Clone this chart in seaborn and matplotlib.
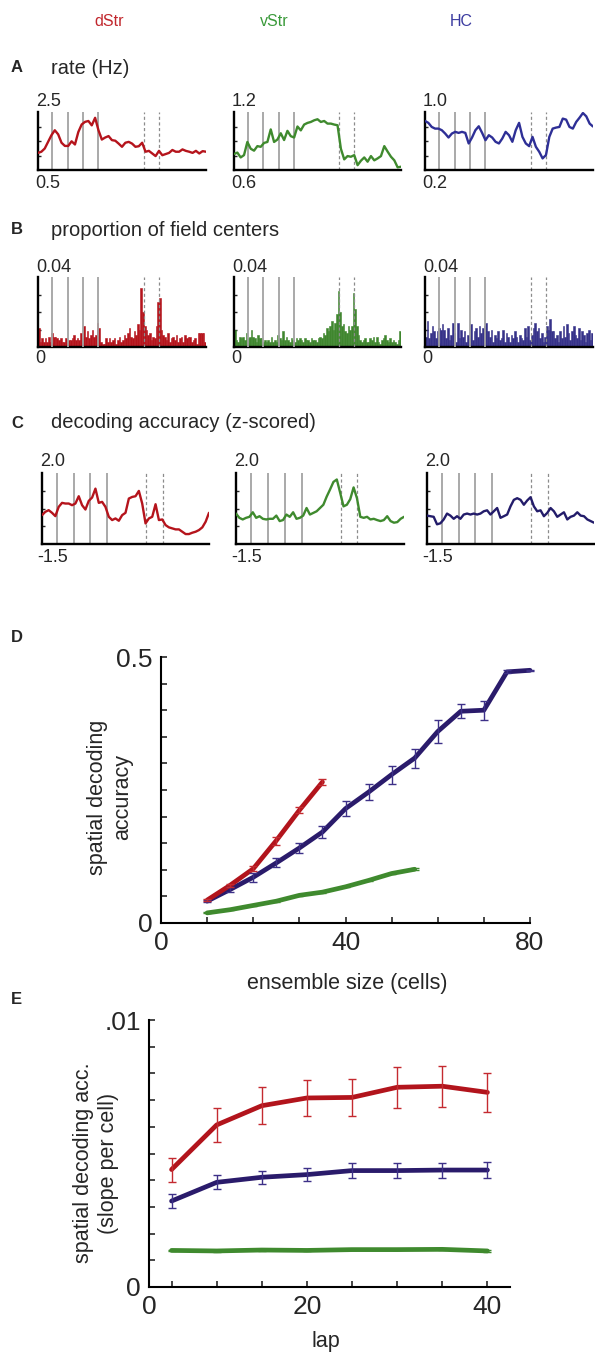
import numpy as np
import matplotlib
matplotlib.use('Agg')
import matplotlib.pyplot as plt
import seaborn as sns

sns.set_style('white')
plt.rcParams['font.family'] = ['Liberation Sans', 'DejaVu Sans']

W, H = 595, 1354

# ---------------- data ----------------
regions = ['dStr', 'vStr', 'HC']
pos = np.arange(0, 101, 2)          # track position (% of track), sampled every 2 %
bin_centers = np.arange(100) + 0.5  # 100 spatial bins

# A: firing rate (Hz)
rate_dStr = [1.09, 1.13, 1.24, 1.47, 1.70, 1.87, 1.73, 1.44, 1.33, 1.33, 1.49, 1.38, 1.81, 2.07,
             2.16, 2.19, 2.04, 2.30, 1.87, 1.55, 1.62, 1.67, 1.53, 1.51, 1.41, 1.30, 1.44, 1.47,
             1.41, 1.30, 1.32, 1.44, 1.13, 1.16, 1.07, 0.98, 1.16, 1.01, 1.05, 1.09, 1.19, 1.13,
             1.13, 1.21, 1.16, 1.13, 1.09, 1.16, 1.07, 1.15, 1.13]
rate_vStr = [0.765, 0.78, 0.73, 0.754, 0.89, 0.82, 0.80, 0.847, 0.84, 0.88, 0.89, 1.02, 0.89,
             0.915, 0.98, 0.91, 1.005, 0.95, 0.936, 1.05, 1.01, 1.07, 1.087, 1.097, 1.114, 1.125,
             1.097, 1.107, 1.08, 1.08, 1.07, 1.063, 0.82, 0.71, 0.744, 0.737, 0.754, 0.65, 0.696,
             0.73, 0.686, 0.744, 0.70, 0.72, 0.744, 0.847, 0.79, 0.737, 0.70, 0.627, 0.634]
rate_HC = [0.877, 0.85, 0.794, 0.771, 0.771, 0.749, 0.703, 0.648, 0.703, 0.726, 0.712, 0.726,
           0.712, 0.566, 0.648, 0.749, 0.803, 0.712, 0.611, 0.68, 0.648, 0.589, 0.566, 0.634,
           0.726, 0.68, 0.589, 0.749, 0.85, 0.657, 0.566, 0.529, 0.657, 0.52, 0.451, 0.36, 0.406,
           0.657, 0.771, 0.785, 0.794, 0.909, 0.895, 0.794, 0.771, 0.863, 0.922, 0.986, 0.94,
           0.84, 0.80]
rate_lims = [(0.5, 2.5), (0.6, 1.2), (0.2, 1.0)]
rate_labels = [('2.5', '0.5'), ('1.2', '0.6'), ('1.0', '0.2')]

# B: proportion of field centres (x 0.001)
field_dStr = [11, 3, 5, 3, 5, 3, 6, 3, 8, 6, 6, 5, 4, 5, 3, 3, 5, 2, 4, 4, 5, 7, 4, 5, 4, 8, 5, 12,
              6, 9, 5, 7, 10, 6, 7, 14, 11, 3, 2, 2, 5, 3, 5, 3, 4, 5, 2, 4, 6, 3, 4, 7, 5, 8, 11,
              6, 5, 9, 7, 13, 10, 34, 20, 12, 10, 7, 8, 4, 6, 5, 12, 26, 28, 10, 7, 6, 4, 8, 3, 5,
              6, 4, 7, 3, 5, 6, 3, 7, 5, 6, 6, 3, 4, 5, 2, 8, 8, 8, 8, 3]
field_vStr = [10, 4, 3, 6, 5, 6, 4, 8, 5, 6, 10, 6, 5, 3, 7, 5, 5, 3, 4, 3, 4, 3, 6, 3, 4, 3, 7, 5,
              4, 9, 4, 6, 4, 3, 5, 4, 3, 5, 4, 5, 4, 3, 5, 4, 4, 3, 5, 4, 4, 3, 5, 6, 5, 8, 7, 11,
              9, 12, 15, 10, 14, 19, 32, 20, 12, 13, 9, 8, 12, 10, 12, 31, 22, 12, 7, 4, 3, 4, 5, 3,
              3, 5, 4, 6, 3, 6, 3, 2, 4, 5, 7, 4, 3, 5, 3, 4, 3, 2, 4, 9]
field_HC = [6, 15, 5, 8, 12, 9, 5, 9, 11, 10, 13, 10, 5, 11, 4, 7, 14, 8, 3, 14, 5, 10, 6, 9, 3, 7,
            5, 13, 4, 9, 11, 6, 12, 8, 11, 12, 14, 9, 6, 10, 3, 7, 5, 9, 4, 5, 10, 3, 8, 6, 3, 7, 5,
            9, 6, 3, 7, 5, 4, 11, 6, 12, 4, 7, 11, 14, 9, 11, 5, 8, 3, 6, 12, 10, 16, 9, 9, 5, 7, 3,
            9, 5, 12, 6, 13, 8, 4, 9, 12, 7, 5, 11, 4, 9, 7, 3, 8, 10, 4, 8]

# C: decoding accuracy (z-scored)
dec_dStr = [-0.077, 0.086, 0.168, 0.037, -0.126, 0.33, 0.528, 0.495, 0.495, 0.413, 0.495, 0.855,
            0.413, 0.2, 0.626, 0.79, 1.23, 0.528, 0.577, 0.33, -0.16, -0.32, -0.24, -0.355, -0.077,
            0.037, 0.74, 0.82, 0.855, 1.117, 0.495, -0.486, -0.24, -0.16, 0.46, -0.32, -0.29,
            -0.568, -0.68, -0.73, -0.78, -0.78, -0.895, -1.01, -1.01, -0.944, -0.895, -0.813,
            -0.68, -0.4, 0.037]
dec_vStr = [0.0, -0.21, -0.29, -0.21, -0.16, 0.064, -0.21, -0.13, -0.258, -0.29, -0.258, -0.258,
            -0.1, -0.37, -0.32, -0.048, -0.16, 0.064, -0.258, -0.21, -0.1, 0.274, -0.048, 0.032,
            0.113, 0.274, 0.435, 0.84, 1.19, 1.56, 1.68, 1.03, 0.355, 0.435, 0.71, 1.29, 0.758,
            -0.16, -0.21, -0.16, -0.29, -0.258, -0.32, -0.37, -0.32, -0.13, -0.37, -0.45, -0.42,
            -0.258, -0.16]
dec_HC = [-0.1, -0.13, -0.16, -0.53, -0.48, -0.29, 0.0, -0.1, -0.258, -0.13, -0.258, -0.048, 0.0,
          -0.048, 0.0, -0.048, 0.0, 0.113, 0.16, -0.048, 0.113, 0.274, -0.21, -0.13, -0.048, 0.355,
          0.677, 0.758, 0.677, 0.435, 0.645, 0.806, 0.355, 0.113, 0.16, -0.13, 0.032, 0.274, 0.113,
          -0.16, -0.048, 0.064, -0.29, -0.16, -0.1, 0.064, -0.1, -0.13, -0.29, -0.37, -0.45]

# D: decoding accuracy vs ensemble size
ens_dStr = [10, 15, 20, 25, 30, 35]
acc_dStr = [0.043, 0.071, 0.102, 0.155, 0.212, 0.265]
acc_err_dStr = [0.002, 0.003, 0.005, 0.0075, 0.006, 0.006]
ens_vStr = [10, 15, 20, 25, 30, 35, 40, 45, 50, 55]
acc_vStr = [0.019, 0.025, 0.033, 0.041, 0.052, 0.058, 0.068, 0.080, 0.093, 0.101]
acc_err_vStr = [0.001, 0.001, 0.001, 0.001, 0.001, 0.001, 0.001, 0.001, 0.001, 0.002]
ens_HC = [10, 15, 20, 25, 30, 35, 40, 45, 50, 55, 60, 65, 70, 75, 80]
acc_HC = [0.041, 0.063, 0.086, 0.113, 0.141, 0.171, 0.215, 0.246, 0.279, 0.310, 0.360, 0.398,
          0.400, 0.472, 0.475]
acc_err_HC = [0.002, 0.005, 0.008, 0.0085, 0.010, 0.012, 0.0147, 0.015, 0.017, 0.018, 0.021,
              0.013, 0.0175, 0.003, 0.001]

# E: slope per cell vs lap
laps = [5, 10, 15, 20, 25, 30, 35, 40]
slope_dStr = [0.00440, 0.00607, 0.00679, 0.00708, 0.00710, 0.00748, 0.00752, 0.00729]
slope_err_dStr = [0.00045, 0.00063, 0.00070, 0.00069, 0.00068, 0.00076, 0.00076, 0.00074]
slope_vStr = [0.00137, 0.00135, 0.001385, 0.00137, 0.00140, 0.00140, 0.00141, 0.00135]
slope_err_vStr = [0.00003] * 8
slope_HC = [0.00322, 0.00392, 0.00411, 0.00421, 0.00436, 0.00436, 0.00438, 0.00438]
slope_err_HC = [0.00027, 0.00026, 0.00025, 0.00025, 0.00027, 0.00029, 0.00028, 0.00029]

# ---------------- styling ----------------
head_cols = ['#C1272D', '#3A9A3A', '#3B3BA0']
line_cols = ['#B5141C', '#3F8A2E', '#2E2F96']
bar_cols = ['#B5141C', '#3F862E', '#363289']
dec_cols = ['#B5141C', '#3F8A2E', '#231C6A']
big_red, big_green, big_blue = '#B2141C', '#3F8A2E', '#2A1B6B'

fig = plt.figure(figsize=(W / 100, H / 100), dpi=100)


def px_rect(x0, y0, x1, y1):
    return [x0 / W, 1 - y1 / H, (x1 - x0) / W, (y1 - y0) / H]


def ftext(x, y, s, **kw):
    fig.text(x / W, 1 - y / H, s, **kw)


for name, xc, c in zip(regions, [109, 274, 461], head_cols):
    ftext(xc, 21, name, color=c, fontsize=11.5, ha='center', va='center')

for letter, title, y in [('A', 'rate (Hz)', 68), ('B', 'proportion of field centers', 230),
                         ('C', 'decoding accuracy (z-scored)', 423)]:
    ftext(11, y, letter, fontsize=12, fontweight='bold', ha='left', va='center')
    ftext(51, y, title, fontsize=14.5, ha='left', va='center')
ftext(11, 638, 'D', fontsize=12, fontweight='bold', ha='left', va='center')
ftext(11, 999, 'E', fontsize=12, fontweight='bold', ha='left', va='center')

cols_AB = [(38, 206), (234, 401), (425, 593)]
cols_C = [(42, 209), (236, 404), (427, 594)]
solid_AB, dashed_AB = [8.6, 17.6, 26.7, 35.8], [63.0, 72.0]
solid_C, dashed_C = [9.0, 19.0, 29.0, 39.0], [62.3, 72.3]


def small_panel(xr, yr, xdata, ydata, ylim, color, labels, solid, dashed, kind, lab_y):
    ax = fig.add_axes(px_rect(xr[0], yr[0], xr[1], yr[1]))
    if kind == 'line':
        sns.lineplot(x=xdata, y=ydata, ax=ax, color=color, linewidth=1.7, zorder=3)
        lz = 1
    else:
        sns.histplot(x=xdata, weights=ydata, bins=100, binrange=(0, 100), ax=ax, color=color,
                     alpha=1, linewidth=0.4, edgecolor=color, zorder=2)
        lz = 3
    for s in solid:
        ax.axvline(s, color='#A3A3A3', lw=1.3, zorder=lz)
    for s in dashed:
        ax.axvline(s, color='#8C8C8C', lw=0.9, ls=(0, (2.5, 2)), zorder=lz)
    ax.set_xlim(0, 100)
    ax.set_ylim(*ylim)
    sns.despine(ax=ax)
    for sp in ['left', 'bottom']:
        ax.spines[sp].set_linewidth(1.7)
        ax.spines[sp].set_color('black')
    ax.set_yticks(np.linspace(ylim[0], ylim[1], 5)[1:-1])
    ax.set_yticklabels([])
    ax.tick_params(axis='y', direction='in', length=2.5, width=1, left=True)
    if kind == 'bar':
        ax.set_xticks(solid + dashed)
        ax.tick_params(axis='x', direction='in', length=3, width=2.5, bottom=True,
                       labelbottom=False)
    else:
        ax.set_xticks([])
    ax.set_xlabel('')
    ax.set_ylabel('')
    ftext(xr[0] - 2, lab_y[0], labels[0], fontsize=13, ha='left', va='center')
    ftext(xr[0] - 3 if not labels[1].startswith('-') else xr[0] - 5, lab_y[1], labels[1],
          fontsize=13, ha='left', va='center')
    return ax


rates = [rate_dStr, rate_vStr, rate_HC]
fields = [field_dStr, field_vStr, field_HC]
decs = [dec_dStr, dec_vStr, dec_HC]
for i in range(3):
    small_panel(cols_AB[i], (112, 170), pos, rates[i], rate_lims[i], line_cols[i],
                rate_labels[i], solid_AB, dashed_AB, 'line', (101, 183))
    small_panel(cols_AB[i], (277, 347), bin_centers, np.array(fields[i]) * 0.001, (0, 0.04),
                bar_cols[i], ('0.04', '0'), solid_AB, dashed_AB, 'bar', (267, 358))
    small_panel(cols_C[i], (473, 544), pos, decs[i], (-1.5, 2.0), dec_cols[i],
                ('2.0', '-1.5'), solid_C, dashed_C, 'line', (462, 558))

# ---------------- D ----------------
axD = fig.add_axes(px_rect(161, 657, 530, 923))
for xs, ys, es, c, ec in [(ens_vStr, acc_vStr, acc_err_vStr, big_green, big_green),
                          (ens_HC, acc_HC, acc_err_HC, big_blue, '#3D3088'),
                          (ens_dStr, acc_dStr, acc_err_dStr, big_red, '#C42A30')]:
    sns.lineplot(x=xs, y=ys, ax=axD, color=c, linewidth=3.4, solid_capstyle='round')
    axD.errorbar(xs, ys, yerr=es, fmt='none', ecolor=ec, elinewidth=1, capsize=3, capthick=1,
                 zorder=4)
for ln in axD.lines:
    ln.set_clip_on(False)
axD.set_xlim(0, 80)
axD.set_ylim(0, 0.5)
axD.set_xticks(np.arange(0, 81, 10))
axD.set_xticklabels(['0', '', '', '', '40', '', '', '', '80'])
axD.set_yticks(np.linspace(0, 0.5, 11))
axD.set_yticklabels(['0'] + [''] * 9 + ['0.5'])
sns.despine(ax=axD)
for sp in ['left', 'bottom']:
    axD.spines[sp].set_linewidth(1.5)
    axD.spines[sp].set_color('black')
axD.tick_params(direction='in', length=4, width=1.2, labelsize=19, pad=6, left=True,
                bottom=True)
axD.set_xlabel('')
axD.set_ylabel('')
ftext(347, 983, 'ensemble size (cells)', fontsize=15.5, ha='center', va='center')
ftext(110, 797, 'spatial decoding\naccuracy', fontsize=15.5, ha='center', va='center',
      rotation=90, multialignment='center', linespacing=1.3)

# ---------------- E ----------------
axE = fig.add_axes(px_rect(149, 1020, 510, 1287))
for ys, es, c, ec in [(slope_vStr, slope_err_vStr, big_green, big_green),
                      (slope_HC, slope_err_HC, big_blue, '#3D3088'),
                      (slope_dStr, slope_err_dStr, big_red, '#C42A30')]:
    sns.lineplot(x=laps, y=ys, ax=axE, color=c, linewidth=3.4)
    axE.errorbar(laps, ys, yerr=es, fmt='none', ecolor=ec, elinewidth=1, capsize=3, capthick=1,
                 zorder=4)
axE.set_xlim(2.5, 42.5)
axE.set_ylim(0, 0.01)
axE.set_xticks([2.5] + laps)
axE.set_xticklabels(['0', '', '', '', '20', '', '', '', '40'])
axE.set_yticks(np.linspace(0, 0.01, 11))
axE.set_yticklabels(['0'] + [''] * 9 + ['.01'])
sns.despine(ax=axE)
for sp in ['left', 'bottom']:
    axE.spines[sp].set_linewidth(1.5)
    axE.spines[sp].set_color('black')
axE.tick_params(direction='in', length=4, width=1.2, labelsize=19, pad=6, left=True,
                bottom=True)
axE.set_xlabel('')
axE.set_ylabel('')
ftext(326, 1342, 'lap', fontsize=15.5, ha='center', va='center')
ftext(96, 1163, 'spatial decoding acc.\n(slope per cell)', fontsize=15.5, ha='center',
      va='center', rotation=90, multialignment='center', linespacing=1.2)

fig.savefig('out.png', dpi=100)
